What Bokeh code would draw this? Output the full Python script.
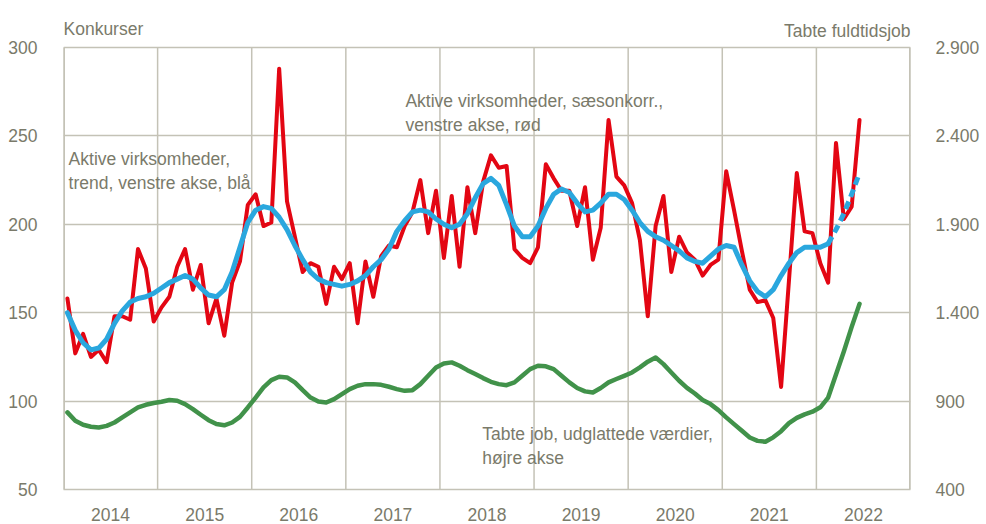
from bokeh.plotting import figure
from bokeh.models import Range1d, LinearAxis, FixedTicker, Label
from bokeh.embed import file_html
from bokeh.resources import INLINE

# ---- data (monthly, Jan 2014 - Jun 2022) ----
years = ["2014", "2015", "2016", "2017", "2018", "2019", "2020", "2021", "2022"]

# Konkurser, aktive virksomheder, saesonkorrigeret (venstre akse, roed)
red = [158, 127, 138, 125, 129, 122, 148, 148, 146, 186, 175, 145,
       153, 159, 176, 186, 163, 177, 144, 158, 137, 167, 179, 211,
       217, 199, 201, 288, 213, 193, 173, 178, 176, 155, 176, 169,
       178, 144, 179, 159, 182, 188, 187, 199, 207, 225, 195, 219,
       181, 216, 176, 221, 195, 224, 239, 232, 233, 186, 181, 178,
       187, 234, 226, 219, 219, 199, 221, 180, 198, 259, 227, 222,
       212, 191, 148, 199, 216, 173, 193, 184, 180, 171, 177, 180,
       230, 208, 185, 163, 156, 157, 147, 108, 168, 229, 196, 195,
       178, 167, 246, 203, 210, 259]

# Konkurser, aktive virksomheder, trend (venstre akse, blaa)
blue = [150, 140, 133, 129, 130, 135, 144, 151, 156, 158, 159, 161,
        164, 167, 169, 171, 169, 164, 160, 159, 163, 173, 187, 201,
        208, 210, 209, 204, 197, 188, 180, 173, 169, 167, 166, 165,
        166, 168, 171, 176, 180, 186, 196, 202, 207, 208, 207, 203,
        200, 198, 200, 206, 215, 223, 226, 222, 211, 199, 193, 193,
        199, 209, 217, 220, 218, 212, 207, 208, 212, 217, 217, 214,
        208, 201, 196, 193, 191, 188, 185, 181, 179, 178, 182, 186,
        188, 187, 177, 168, 162, 159, 163, 171, 178, 184, 187, 187,
        187, 189, 197, 206, 217, 229]
dash_from = 97  # trend is dashed (foreloebig) from here

# Tabte fuldtidsjob, udglattede vaerdier (hoejre akse, groen)
green = [836, 789, 766, 755, 751, 760, 779, 808, 836, 864, 879, 889,
         896, 906, 902, 883, 855, 823, 792, 770, 763, 779, 811, 864,
         920, 977, 1019, 1038, 1034, 1006, 962, 920, 898, 892, 911, 940,
         968, 987, 996, 996, 992, 981, 968, 958, 962, 996, 1043, 1090,
         1113, 1119, 1100, 1075, 1053, 1030, 1009, 996, 990, 1006, 1043, 1081,
         1100, 1097, 1081, 1043, 1006, 974, 955, 949, 974, 1006, 1025, 1043,
         1062, 1091, 1123, 1147, 1109, 1062, 1015, 975, 943, 906, 883, 849,
         808, 770, 732, 694, 675, 670, 695, 730, 775, 805, 825, 840,
         865, 920, 1050, 1180, 1320, 1450]

left_ticks = [50, 100, 150, 200, 250, 300]
right_ticks = [400, 900, 1400, 1900, 2400, 2900]
right_labels = ["400", "900", "1.400", "1.900", "2.400", "2.900"]

# ---- styling ----
FONT = "Liberation Sans"
FS = "17.5px"
TXT = "#7A7A6A"
GRID = "#C4C2B6"
RED = "#E30613"
BLUE = "#2AA7DE"
GREEN = "#41924A"

n_months = 12 * len(years)
x = [i + 0.5 for i in range(len(red))]

# headroom above the top gridline, used for the two axis captions
y_lo, y_hi = left_ticks[0], left_ticks[-1]
y_top = y_hi + 20.93
r_lo = right_ticks[0]
r_scale = (right_ticks[-1] - right_ticks[0]) / (y_hi - y_lo)
r_top = r_lo + (y_top - y_lo) * r_scale

p = figure(width=986, height=524, output_backend="svg", toolbar_location=None,
           x_range=Range1d(0, n_months), y_range=Range1d(y_lo, y_top),
           min_border_left=63, min_border_right=76, min_border_top=10,
           min_border_bottom=35)
p.extra_y_ranges = {"right": Range1d(r_lo, r_top)}
p.outline_line_color = None
p.background_fill_color = "white"
p.border_fill_color = "white"

# grids: horizontal via ygrid, vertical year separators as segments (stop at top gridline)
p.xgrid.grid_line_color = None
p.ygrid.ticker = FixedTicker(ticks=left_ticks)
p.ygrid.grid_line_color = GRID
p.ygrid.grid_line_width = 1.5
bounds = [12 * k for k in range(len(years) + 1)]
p.segment(x0=bounds, y0=[y_lo] * len(bounds), x1=bounds, y1=[y_hi] * len(bounds),
          line_color=GRID, line_width=1.5)
p.segment(x0=[bounds[0], bounds[-1]], y0=[y_lo, y_lo], x1=[bounds[0], bounds[-1]],
          y1=[y_hi, y_hi], line_color=GRID, line_width=3)

# x axis: year labels centred in each year
xa = p.xaxis[0]
centers = [12 * k + 6 for k in range(len(years))]
xa.ticker = FixedTicker(ticks=centers)
xa.major_label_overrides = {c: y for c, y in zip(centers, years)}
xa.major_tick_line_color = None
xa.minor_tick_line_color = None
xa.axis_line_color = GRID
xa.axis_line_width = 1.5
xa.major_label_standoff = 12
xa.major_label_text_font = FONT
xa.major_label_text_font_size = FS
xa.major_label_text_color = TXT

ya = p.yaxis[0]
ya.ticker = FixedTicker(ticks=left_ticks)
ya.major_tick_line_color = None
ya.minor_tick_line_color = None
ya.axis_line_color = None
ya.major_label_standoff = 20
ya.major_label_text_font = FONT
ya.major_label_text_font_size = FS
ya.major_label_text_color = TXT

ra = LinearAxis(y_range_name="right", ticker=FixedTicker(ticks=right_ticks))
ra.major_label_overrides = {t: l for t, l in zip(right_ticks, right_labels)}
ra.major_tick_line_color = None
ra.minor_tick_line_color = None
ra.axis_line_color = None
ra.major_label_standoff = 19
ra.major_label_text_font = FONT
ra.major_label_text_font_size = FS
ra.major_label_text_color = TXT
p.add_layout(ra, "right")

# lines
p.line(x, green, y_range_name="right", line_color=GREEN, line_width=4.5,
       line_join="round", line_cap="round")
p.line(x, red, line_color=RED, line_width=4, line_join="round", line_cap="round")
p.line(x[:dash_from + 1], blue[:dash_from + 1], line_color=BLUE, line_width=5,
       line_join="round", line_cap="round")
p.line(x[dash_from:], blue[dash_from:], line_color=BLUE, line_width=5,
       line_dash="8 5", line_join="round")

# texts
def add_label(xv, yv, txt, align="left", xoff=0):
    p.add_layout(Label(x=xv, y=yv, text=txt, text_font=FONT, text_font_size=FS,
                       text_color=TXT, text_align=align, text_baseline="alphabetic",
                       x_offset=xoff))

add_label(0, 310.2, "Konkurser")
add_label(n_months, 309.5, "Tabte fuldtidsjob", align="right")
add_label(0.65, 236.7, "Aktive virksomheder,")
add_label(0.65, 223.1, "trend, venstre akse, blå")
add_label(43.6, 269.5, "Aktive virksomheder, sæsonkorr.,")
add_label(43.6, 255.9, "venstre akse, rød")
add_label(53.4, 81.4, "Tabte job, udglattede værdier,")
add_label(53.4, 67.8, "højre akse")

open("out.html", "w").write(file_html(p, INLINE))
